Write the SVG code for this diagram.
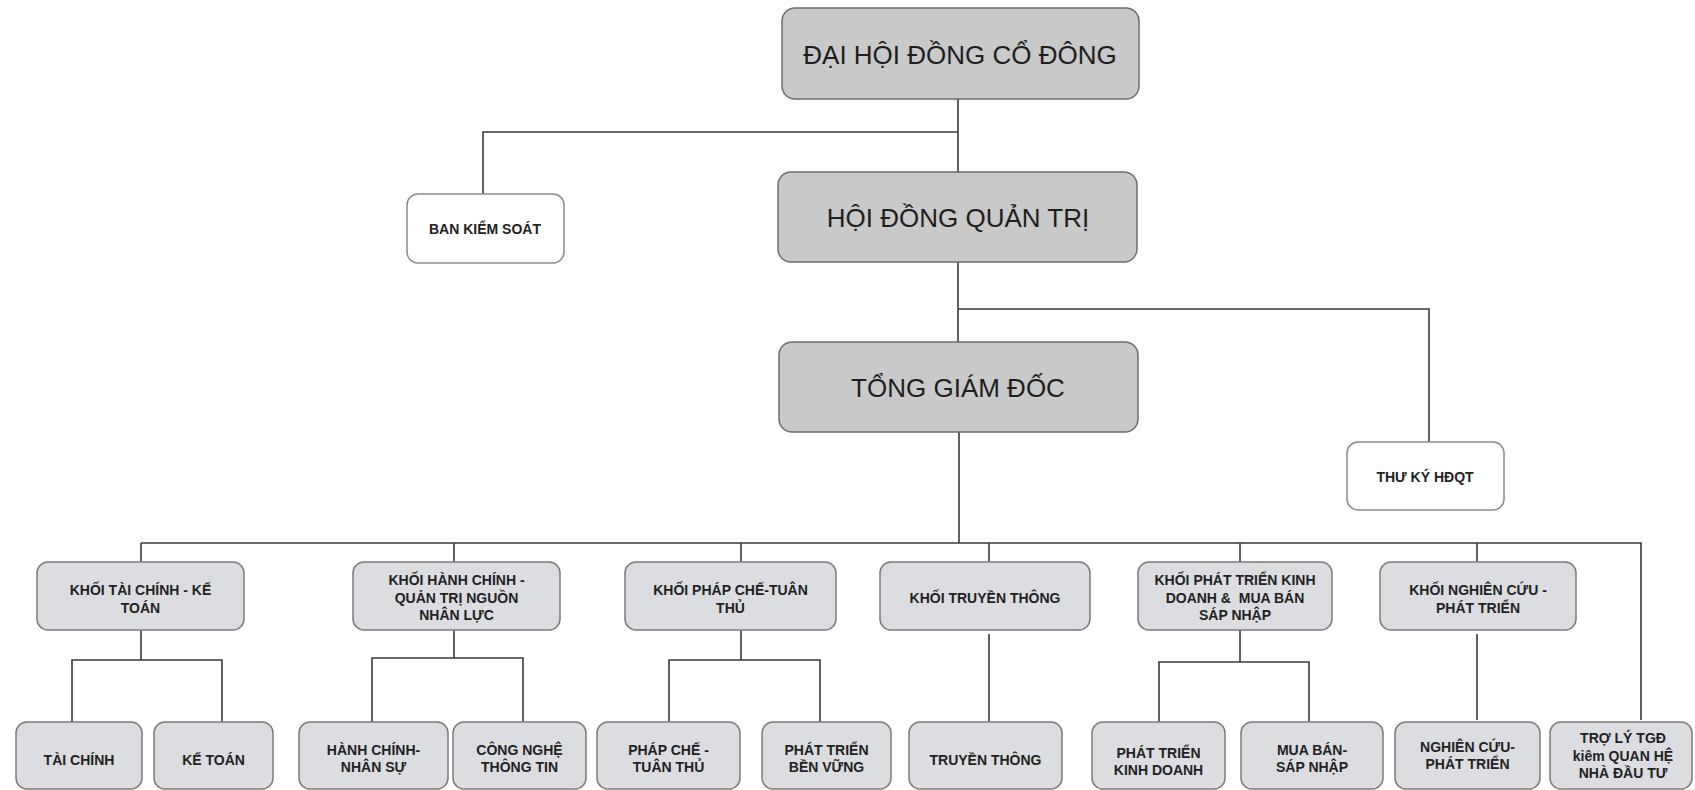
<svg xmlns="http://www.w3.org/2000/svg" width="1695" height="790" viewBox="0 0 1695 790">
<style>
.top{fill:#c9c9c9;stroke:#6e6e6e;stroke-width:1.5}
.mid{fill:#dcdde1;stroke:#7c7c7c;stroke-width:1.5}
.wht{fill:#ffffff;stroke:#8a8a8a;stroke-width:1.5}
.conn{fill:none;stroke:#3a3a3a;stroke-width:1.6}
.big{font-family:"Liberation Sans",Arial,sans-serif;font-size:26px;fill:#1e1e1e;text-anchor:middle}
.lb{font-family:"Liberation Sans",Arial,sans-serif;font-size:14px;font-weight:bold;fill:#222;text-anchor:middle}
</style>
<rect width="1695" height="790" fill="#ffffff"/>
<g id="connectors" class="conn">
<path d="M958 99V172M958 132H483V194"/>
<path d="M958 262V342M958 309H1429V442"/>
<path d="M959 432V543M141 543H1641V720"/>
<path d="M141 543V562M454 543V562M741 543V562M989 543V562M1240 543V562M1477 543V562"/>
<path d="M141 630V660M72 722V660H222V722"/>
<path d="M454 630V658M372 722V658H523V722"/>
<path d="M741 630V660M669 722V660H820V722"/>
<path d="M989 634V722"/>
<path d="M1240 630V662M1159 722V662H1309V722"/>
<path d="M1477 634V720"/>
</g>
<g id="dhdcd"><rect class="top" x="782" y="8" width="357" height="91" rx="13"/><text class="big" x="960" y="64">ĐẠI HỘI ĐỒNG CỔ ĐÔNG</text></g>
<g id="hdqt"><rect class="top" x="778" y="172" width="359" height="90" rx="13"/><text class="big" x="958" y="227">HỘI ĐỒNG QUẢN TRỊ</text></g>
<g id="tgd"><rect class="top" x="779" y="342" width="359" height="90" rx="13"/><text class="big" x="958" y="397">TỔNG GIÁM ĐỐC</text></g>
<g id="bks"><rect class="wht" x="407" y="194" width="157" height="69" rx="11"/><text class="lb" x="485" y="234">BAN KIỂM SOÁT</text></g>
<g id="thuky"><rect class="wht" x="1347" y="442" width="157" height="68" rx="11"/><text class="lb" x="1425" y="482">THƯ KÝ HĐQT</text></g>

<g id="k-tckt"><rect class="mid" x="37" y="562" width="207" height="68" rx="11"/><text class="lb" x="140.5" y="595">KHỐI TÀI CHÍNH - KẾ<tspan x="140.5" dy="17.5">TOÁN</tspan></text></g>
<g id="k-hc"><rect class="mid" x="353" y="562" width="207" height="68" rx="11"/><text class="lb" x="456.5" y="585">KHỐI HÀNH CHÍNH -<tspan x="456.5" dy="17.5">QUẢN TRỊ NGUỒN</tspan><tspan x="456.5" dy="17.5">NHÂN LỰC</tspan></text></g>
<g id="k-pc"><rect class="mid" x="625" y="562" width="211" height="68" rx="11"/><text class="lb" x="730.5" y="595">KHỐI PHÁP CHẾ-TUÂN<tspan x="730.5" dy="17.5">THỦ</tspan></text></g>
<g id="k-tt"><rect class="mid" x="880" y="562" width="210" height="68" rx="11"/><text class="lb" x="985" y="603">KHỐI TRUYỀN THÔNG</text></g>
<g id="k-ptkd"><rect class="mid" x="1138" y="562" width="194" height="68" rx="11"/><text class="lb" x="1235" y="585">KHỐI PHÁT TRIỂN KINH<tspan x="1235" dy="17.5">DOANH &amp;&#160; MUA BÁN</tspan><tspan x="1235" dy="17.5">SÁP NHẬP</tspan></text></g>
<g id="k-nc"><rect class="mid" x="1380" y="562" width="196" height="68" rx="11"/><text class="lb" x="1478" y="595">KHỐI NGHIÊN CỨU -<tspan x="1478" dy="17.5">PHÁT TRIỂN</tspan></text></g>

<g id="b-tc"><rect class="mid" x="16" y="722" width="126" height="67" rx="11"/><text class="lb" x="79" y="765">TÀI CHÍNH</text></g>
<g id="b-kt"><rect class="mid" x="154" y="722" width="119" height="67" rx="11"/><text class="lb" x="213.5" y="765">KẾ TOÁN</text></g>
<g id="b-hcns"><rect class="mid" x="299" y="722" width="149" height="67" rx="11"/><text class="lb" x="373.5" y="755">HÀNH CHÍNH-<tspan x="373.5" dy="17">NHÂN SỰ</tspan></text></g>
<g id="b-cntt"><rect class="mid" x="453" y="722" width="133" height="67" rx="11"/><text class="lb" x="519.5" y="755">CÔNG NGHỆ<tspan x="519.5" dy="17">THÔNG TIN</tspan></text></g>
<g id="b-pctt"><rect class="mid" x="597" y="722" width="143" height="67" rx="11"/><text class="lb" x="668.5" y="755">PHÁP CHẾ -<tspan x="668.5" dy="17">TUÂN THỦ</tspan></text></g>
<g id="b-ptbv"><rect class="mid" x="762" y="722" width="129" height="67" rx="11"/><text class="lb" x="826.5" y="755">PHÁT TRIỂN<tspan x="826.5" dy="17">BỀN VỮNG</tspan></text></g>
<g id="b-tt"><rect class="mid" x="909" y="722" width="153" height="67" rx="11"/><text class="lb" x="985.5" y="765">TRUYỀN THÔNG</text></g>
<g id="b-ptkd"><rect class="mid" x="1092" y="722" width="133" height="67" rx="11"/><text class="lb" x="1158.5" y="758">PHÁT TRIỂN<tspan x="1158.5" dy="17">KINH DOANH</tspan></text></g>
<g id="b-mb"><rect class="mid" x="1241" y="722" width="142" height="67" rx="11"/><text class="lb" x="1312" y="755">MUA BÁN-<tspan x="1312" dy="17">SÁP NHẬP</tspan></text></g>
<g id="b-nc"><rect class="mid" x="1395" y="722" width="145" height="67" rx="11"/><text class="lb" x="1467.5" y="752">NGHIÊN CỨU-<tspan x="1467.5" dy="17">PHÁT TRIỂN</tspan></text></g>
<g id="b-trl"><rect class="mid" x="1550" y="722" width="142" height="67" rx="11"/><text class="lb" x="1623" y="743">TRỢ LÝ TGĐ<tspan x="1623" dy="17.5">kiêm QUAN HỆ</tspan><tspan x="1623" dy="17.5">NHÀ ĐẦU TƯ</tspan></text></g>
</svg>
